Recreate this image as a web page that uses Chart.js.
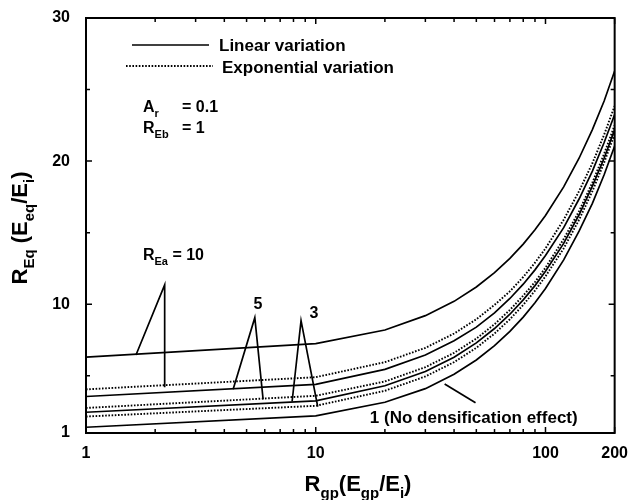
<!DOCTYPE html>
<html><head><meta charset="utf-8">
<script src="https://cdn.jsdelivr.net/npm/chart.js@4.4.1/dist/chart.umd.min.js"></script>
<style>html,body{margin:0;padding:0;background:#fff;}canvas{display:block;}</style>
</head><body>
<canvas id="c" width="631" height="500"></canvas>
<script>
// ---------- data ----------
const xValues = [1, 10, 20, 30, 40, 50, 60, 70, 80, 90, 100, 120, 140, 160, 180, 200];
const linear10 = [6.3, 7.25, 8.2, 9.2, 10.2, 11.2, 12.2, 13.2, 14.2, 15.2, 16.2, 18.2, 20.2, 22.2, 24.2, 26.3];
const expon10  = [4.05, 4.9, 5.95, 6.95, 7.95, 8.95, 9.95, 10.9, 11.9, 12.9, 13.9, 15.9, 17.9, 19.85, 21.85, 23.85];
const linear5  = [3.55, 4.4, 5.45, 6.45, 7.45, 8.4, 9.4, 10.4, 11.4, 12.4, 13.4, 15.35, 17.35, 19.3, 21.3, 23.25];
const expon5   = [2.75, 3.6, 4.6, 5.6, 6.6, 7.6, 8.6, 9.6, 10.6, 11.55, 12.55, 14.55, 16.5, 18.5, 20.5, 22.5];
const linear3  = [2.45, 3.25, 4.3, 5.3, 6.3, 7.3, 8.3, 9.3, 10.3, 11.3, 12.3, 14.25, 16.25, 18.25, 20.2, 22.2];
const expon3   = [2.15, 2.9, 3.95, 4.95, 5.95, 6.95, 7.95, 8.95, 9.95, 10.95, 11.95, 13.9, 15.9, 17.9, 19.9, 21.9];
const linear1  = [1.4, 2.2, 3.15, 4.1, 5.1, 6.1, 7.1, 8.1, 9.1, 10.1, 11.1, 13.1, 15.1, 17.05, 19.05, 21.05];

// pointer lines of the curve labels (data units)
const pointer10X = [1.65, 2.2, 2.2];   const pointer10Y = [6.45, 11.35, 4.2];
const pointer5X  = [4.37, 5.43, 5.9];  const pointer5Y  = [4.05, 9.06, 3.35];
const pointer3X  = [7.89, 8.63, 10.2]; const pointer3Y  = [3.2, 8.85, 2.84];
const pointer1X  = [36.4, 49.6];       const pointer1Y  = [4.43, 3.12];

// ticks
const yTickValues  = [1, 5, 10, 15, 20, 25, 30];
const yTickLabels  = [1, 10, 20, 30];
const xTickValues  = [1, 2, 3, 4, 5, 6, 7, 8, 9, 10, 20, 30, 40, 50, 60, 70, 80, 90, 100, 200];
const xTickLabels  = [1, 10, 100, 200];

// texts
const legendLabels = ['Linear variation', 'Exponential variation'];
const paramText1 = [['A', 0], ['r', 1]];  const paramValue1 = '= 0.1';
const paramText2 = [['R', 0], ['Eb', 1]]; const paramValue2 = '= 1';
const labelREa = [['R', 0], ['Ea', 1], [' = 10', 0]];
const label5 = '5', label3 = '3';
const label1 = '1 (No densification effect)';
const yTitle = [['R', 0], ['Eq', 1], [' (E', 0], ['eq', 1], ['/E', 0], ['i', 1], [')', 0]];
const xTitle = [['R', 0], ['gp', 1], ['(E', 0], ['gp', 1], ['/E', 0], ['i', 1], [')', 0]];

// label anchors (data units)
const anchorREa = [1.77, 13.09];
const anchor5 = [5.6, 10.0];
const anchor3 = [9.81, 9.32];
const anchor1 = [17.2, 1.72];

// ---------- helpers ----------
const FAM = '"Liberation Sans", Arial, Helvetica, sans-serif';
const font = (sz) => `bold ${sz}px ${FAM}`;
function zip(xs, ys) { return xs.map((x, i) => ({x: x, y: ys[i]})); }
function richWidth(ctx, parts, size) {
  const sub = Math.round(size * 0.7); let w = 0;
  parts.forEach(p => { ctx.font = font(p[1] ? sub : size); w += ctx.measureText(p[0]).width; });
  return w;
}
function drawRich(ctx, parts, x, y, size, align) {
  const sub = Math.round(size * 0.7);
  let cx = align === 'center' ? x - richWidth(ctx, parts, size) / 2 : x;
  parts.forEach(p => {
    ctx.font = font(p[1] ? sub : size);
    ctx.fillText(p[0], cx, p[1] ? y + size * 0.32 : y);
    cx += ctx.measureText(p[0]).width;
  });
}

function lineDs(xs, ys, dashed) {
  return {
    data: zip(xs, ys), borderColor: '#000', borderWidth: dashed ? 1.9 : 1.7,
    borderDash: dashed ? [1.6, 1.6] : [], pointRadius: 0, fill: false, tension: 0
  };
}

const decor = {
  id: 'decor',
  afterDraw(chart) {
    const ctx = chart.ctx, a = chart.chartArea, xs = chart.scales.x, ys = chart.scales.y;
    ctx.save();
    ctx.strokeStyle = '#000'; ctx.fillStyle = '#000';
    // frame
    ctx.lineWidth = 2;
    ctx.strokeRect(a.left, a.top, a.right - a.left, a.bottom - a.top);
    // inward ticks
    ctx.lineWidth = 1.5;
    ctx.beginPath();
    yTickValues.forEach(v => {
      const p = ys.getPixelForValue(v), L = yTickLabels.includes(v) ? 6 : 4;
      ctx.moveTo(a.left, p); ctx.lineTo(a.left + L, p);
      ctx.moveTo(a.right, p); ctx.lineTo(a.right - L, p);
    });
    xTickValues.forEach(v => {
      const p = xs.getPixelForValue(v), L = xTickLabels.includes(v) ? 6 : 4;
      ctx.moveTo(p, a.bottom); ctx.lineTo(p, a.bottom - L);
      ctx.moveTo(p, a.top); ctx.lineTo(p, a.top + L);
    });
    ctx.stroke();

    // legend
    ctx.lineWidth = 1.7;
    ctx.beginPath(); ctx.moveTo(132, 45); ctx.lineTo(209, 45); ctx.stroke();
    ctx.lineWidth = 1.9; ctx.setLineDash([1.6, 1.6]);
    ctx.beginPath(); ctx.moveTo(126, 66); ctx.lineTo(213, 66); ctx.stroke();
    ctx.setLineDash([]);
    ctx.textBaseline = 'alphabetic'; ctx.textAlign = 'left';
    ctx.font = font(17);
    ctx.fillText(legendLabels[0], 219, 51);
    ctx.fillText(legendLabels[1], 222, 73);

    // parameters
    drawRich(ctx, paramText1, 143, 112, 16, 'left');
    ctx.font = font(16); ctx.fillText(paramValue1, 182, 112);
    drawRich(ctx, paramText2, 143, 133, 16, 'left');
    ctx.font = font(16); ctx.fillText(paramValue2, 182, 133);

    // curve labels
    drawRich(ctx, labelREa, xs.getPixelForValue(anchorREa[0]), ys.getPixelForValue(anchorREa[1]), 16, 'left');
    ctx.font = font(16); ctx.textAlign = 'center'; ctx.textBaseline = 'middle';
    ctx.fillText(label5, xs.getPixelForValue(anchor5[0]), ys.getPixelForValue(anchor5[1]));
    ctx.fillText(label3, xs.getPixelForValue(anchor3[0]), ys.getPixelForValue(anchor3[1]));
    ctx.textAlign = 'left'; ctx.textBaseline = 'alphabetic';
    ctx.font = font(17);
    ctx.fillText(label1, xs.getPixelForValue(anchor1[0]), ys.getPixelForValue(anchor1[1]));

    // axis titles
    drawRich(ctx, xTitle, 358, 491, 22, 'center');
    ctx.save(); ctx.translate(27, 228); ctx.rotate(-Math.PI / 2);
    drawRich(ctx, yTitle, 0, 0, 22, 'center');
    ctx.restore();
    ctx.restore();
  }
};

new Chart(document.getElementById('c'), {
  type: 'line',
  data: {
    datasets: [
      lineDs(xValues, linear10, false), lineDs(xValues, expon10, true),
      lineDs(xValues, linear5, false),  lineDs(xValues, expon5, true),
      lineDs(xValues, linear3, false),  lineDs(xValues, expon3, true),
      lineDs(xValues, linear1, false),
      lineDs(pointer10X, pointer10Y, false), lineDs(pointer5X, pointer5Y, false),
      lineDs(pointer3X, pointer3Y, false), lineDs(pointer1X, pointer1Y, false)
    ]
  },
  options: {
    responsive: false, animation: false, devicePixelRatio: 1,
    layout: { padding: { left: 0, right: 16, top: 18, bottom: 0 } },
    plugins: { legend: { display: false }, tooltip: { enabled: false } },
    scales: {
      x: {
        type: 'logarithmic', min: 1, max: 200,
        grid: { display: false }, border: { display: false },
        afterFit: s => { s.height = 67; },
        afterBuildTicks: s => { s.ticks = xTickValues.map(v => ({ value: v })); },
        ticks: {
          autoSkip: false, maxRotation: 0, padding: 3, color: '#000',
          font: { family: FAM, size: 16, weight: 'bold' },
          callback: v => xTickLabels.includes(v) ? String(v) : ''
        }
      },
      y: {
        type: 'linear', min: 1, max: 30,
        grid: { display: false }, border: { display: false },
        afterFit: s => { s.width = 86; },
        afterBuildTicks: s => { s.ticks = yTickValues.map(v => ({ value: v })); },
        ticks: {
          autoSkip: false, padding: 8, color: '#000',
          font: { family: FAM, size: 16, weight: 'bold' },
          callback: v => yTickLabels.includes(v) ? String(v) : ''
        }
      }
    }
  },
  plugins: [decor]
});
</script>
</body></html>
